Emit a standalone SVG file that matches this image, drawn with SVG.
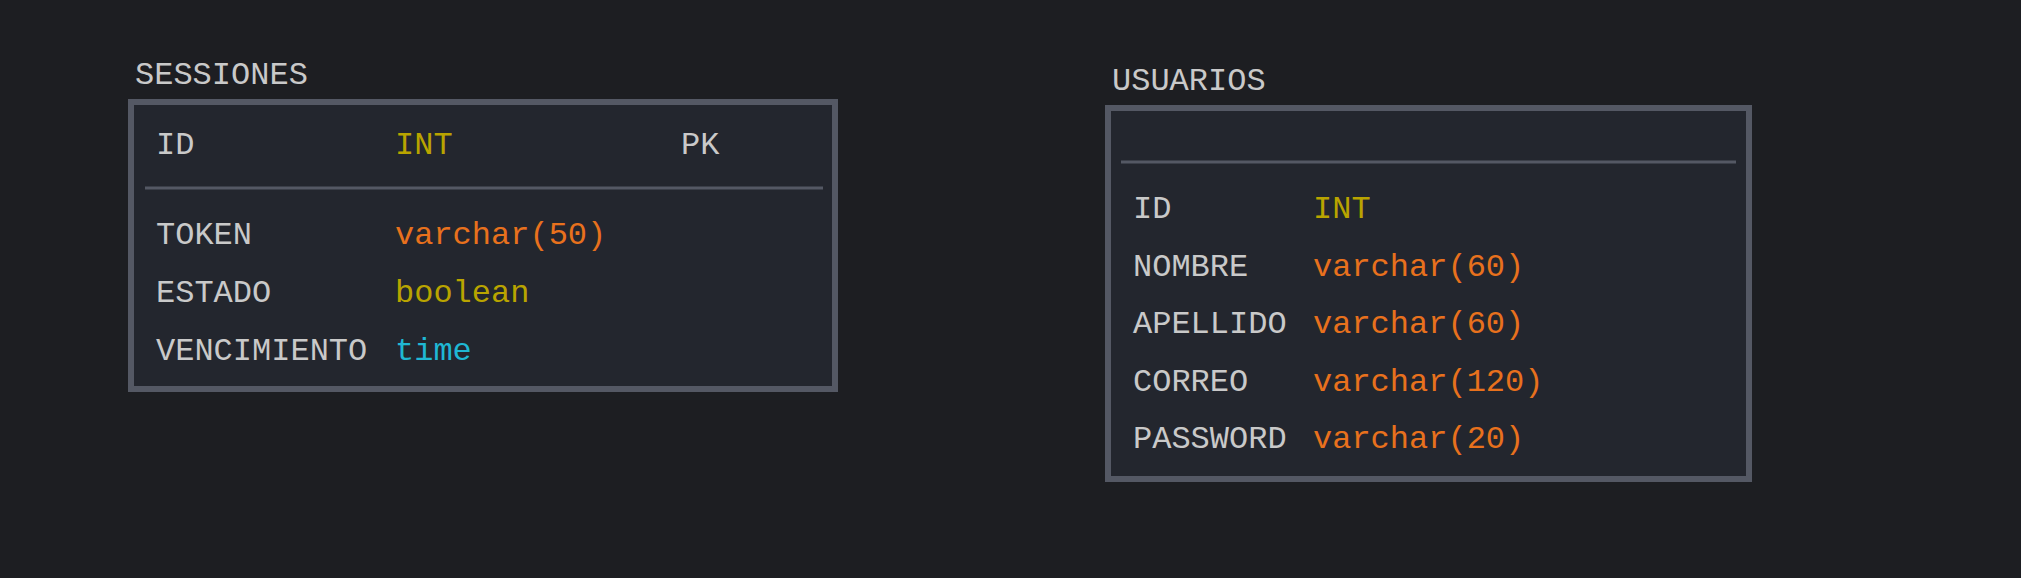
<svg xmlns="http://www.w3.org/2000/svg" width="2021" height="578" viewBox="0 0 2021 578">
<style>
text{font-family:"Liberation Mono","Courier New",monospace;font-size:32px;fill:#c9c9c9}
.box{fill:#23262e;stroke:#545864;stroke-width:6}
.div{stroke:#545864;stroke-width:3}
.int{fill:#b9a400}
.vc{fill:#e8711d}
.bool{fill:#b9a400}
.time{fill:#1fb8d4}
</style>
<rect width="2021" height="578" fill="#1d1e22"/>
<g id="sesiones">
<text x="135" y="84">SESSIONES</text>
<rect class="box" x="131" y="102" width="704" height="287"/>
<line class="div" x1="145" y1="188" x2="823" y2="188"/>
<text x="156" y="154">ID</text>
<text class="int" x="395" y="154">INT</text>
<text x="681" y="154">PK</text>
<text x="156" y="244">TOKEN</text>
<text class="vc" x="395" y="244">varchar(50)</text>
<text x="156" y="302">ESTADO</text>
<text class="bool" x="395" y="302">boolean</text>
<text x="156" y="360">VENCIMIENTO</text>
<text class="time" x="395" y="360">time</text>
</g>
<g id="usuarios">
<text x="1112" y="90">USUARIOS</text>
<rect class="box" x="1108" y="108" width="641" height="371"/>
<line class="div" x1="1121" y1="162" x2="1736" y2="162"/>
<text x="1133" y="218">ID</text>
<text class="int" x="1313" y="218">INT</text>
<text x="1133" y="276">NOMBRE</text>
<text class="vc" x="1313" y="276">varchar(60)</text>
<text x="1133" y="333">APELLIDO</text>
<text class="vc" x="1313" y="333">varchar(60)</text>
<text x="1133" y="391">CORREO</text>
<text class="vc" x="1313" y="391">varchar(120)</text>
<text x="1133" y="448">PASSWORD</text>
<text class="vc" x="1313" y="448">varchar(20)</text>
</g>
<g id="connectors"/>
</svg>
